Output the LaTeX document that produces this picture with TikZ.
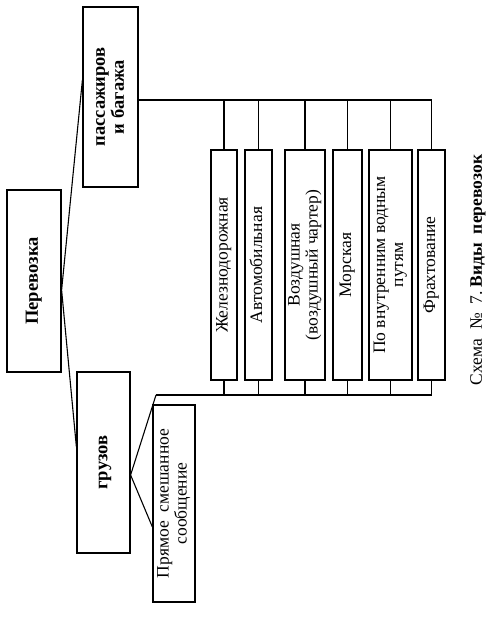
\documentclass[tikz,border=0pt]{standalone}
\usepackage{fontspec}
\setmainfont{Liberation Serif}
\newcommand{\rt}[1]{\rotatebox{90}{\begin{tabular}{@{}c@{}}#1\end{tabular}}}
\tikzset{
  bx/.style={draw, line width=1.2pt, inner sep=0pt, font=\fontsize{17.5}{18}\selectfont},
  bbx/.style={bx, font=\fontsize{18.5}{19}\selectfont\bfseries},
  ln/.style={line width=1.1pt},
}
\begin{document}
\begin{tikzpicture}[x=1pt,y=-1pt]
\useasboundingbox[fill=white] (0,0) rectangle (489,626);
% main boxes
\node[bbx, minimum width=54pt, minimum height=182pt] (per) at (34,281) {\rt{Перевозка}};
\node[bbx, minimum width=55pt, minimum height=180pt] (pas) at (110.5,97) {\rt{пассажиров\\и багажа}};
\node[bbx, minimum width=53pt, minimum height=181pt] (gruz) at (103.5,462.5) {\rt{грузов}};
\node[bx, minimum width=42pt, minimum height=197pt] (pryam) at (174,503.5) {\rt{Прямое\ \ смешанное\\сообщение}};
% transport boxes
\node[bx, minimum width=26pt, minimum height=230pt] (b1) at (224,265) {\rt{Железнодорожная}};
\node[bx, minimum width=27pt, minimum height=230pt] (b2) at (258.5,265) {\rt{Автомобильная}};
\node[bx, minimum width=40pt, minimum height=230pt] (b3) at (305,265) {\rt{Воздушная\\(воздушный чартер)}};
\node[bx, minimum width=29pt, minimum height=230pt] (b4) at (347.5,265) {\rt{Морская}};
\node[bx, minimum width=43pt, minimum height=230pt] (b5) at (390.5,265) {\rt{По внутренним водным\\путям}};
\node[bx, minimum width=27pt, minimum height=230pt] (b6) at (431.5,265) {\rt{Фрахтование}};
% caption
\node[font=\fontsize{17.5}{18}\selectfont, inner sep=0pt] (cap) at (478,270) {\rotatebox{90}{Схема\ \ №\ \ 7.\ \textbf{Виды\ \ перевозок}}};
% connectors from Перевозка
\coordinate (pj) at ([yshift=-9pt]per.east);
\draw[ln] ([yshift=17pt]pas.west) -- (pj) -- ([yshift=15.5pt]gruz.west);
% connectors from грузов
\coordinate (bl) at (156,395);
\draw[ln] (bl) -- ([yshift=-12.5pt]gruz.east) -- ([yshift=-23.5pt]pryam.west);
% top bus
\coordinate (tb) at ([yshift=-3pt]pas.east);
\draw[ln] (tb) -| (b6.north);
\foreach \i in {1,...,5} \draw[ln] (b\i.north) -- (b\i.north |- tb);
% bottom bus
\draw[ln] (bl) -| (b6.south);
\foreach \i in {1,...,5} \draw[ln] (b\i.south) -- (b\i.south |- bl);
\end{tikzpicture}
\end{document}
